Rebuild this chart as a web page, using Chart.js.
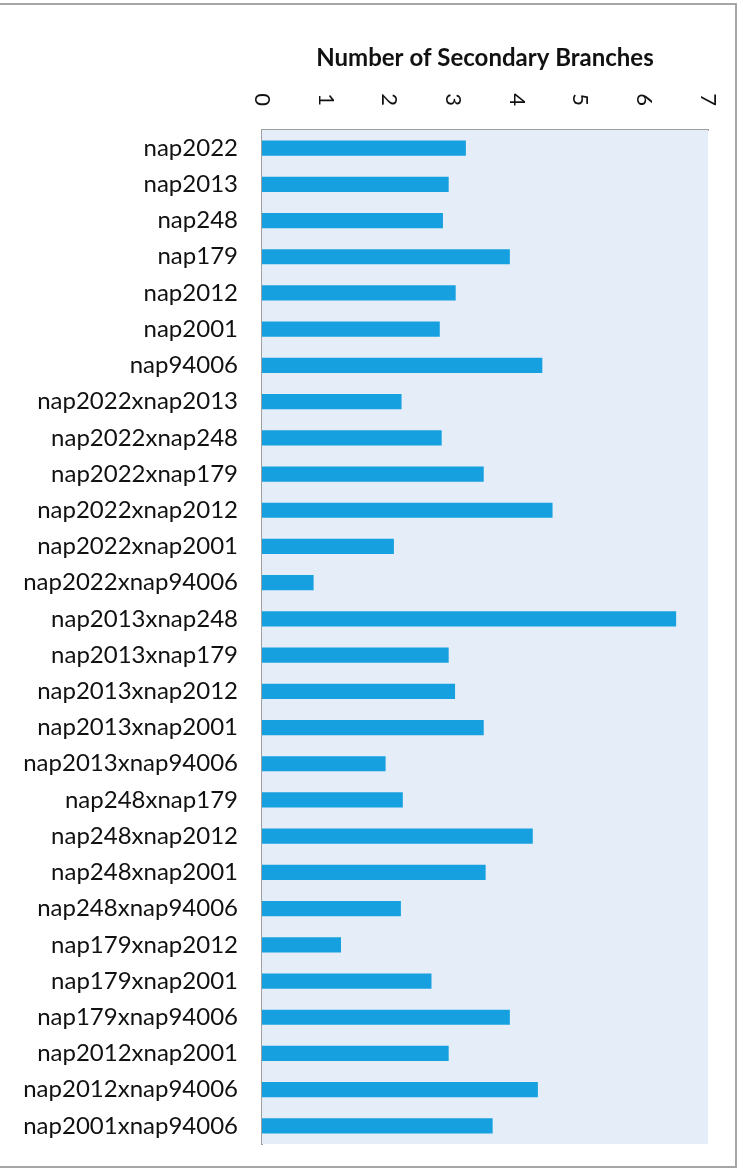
<!DOCTYPE html>
<html>
<head>
<meta charset="utf-8">
<script src="https://cdn.jsdelivr.net/npm/chart.js@4"></script>
<style>
  html, body { margin: 0; padding: 0; background: #fff; overflow: hidden; }
  #wrap { position: relative; width: 743px; height: 1170px; overflow: hidden; }
  #myChart { display: block; }
  #frame {
    position: absolute; left: -10px; top: 3px; width: 743px; height: 1161px;
    border: 2px solid #a6a6a6; pointer-events: none;
  }
</style>
</head>
<body>
<div id="wrap">
  <canvas id="myChart" width="743" height="1170"></canvas>
  <div id="frame"></div>
</div>
<script>
const lines = [
  'nap2022', 'nap2013', 'nap248', 'nap179', 'nap2012', 'nap2001', 'nap94006',
  'nap2022xnap2013', 'nap2022xnap248', 'nap2022xnap179', 'nap2022xnap2012',
  'nap2022xnap2001', 'nap2022xnap94006', 'nap2013xnap248', 'nap2013xnap179',
  'nap2013xnap2012', 'nap2013xnap2001', 'nap2013xnap94006', 'nap248xnap179',
  'nap248xnap2012', 'nap248xnap2001', 'nap248xnap94006', 'nap179xnap2012',
  'nap179xnap2001', 'nap179xnap94006', 'nap2012xnap2001', 'nap2012xnap94006',
  'nap2001xnap94006'
];

const branches = [
  3.2, 2.93, 2.84, 3.89, 3.04, 2.79, 4.4,
  2.19, 2.82, 3.48, 4.56,
  2.07, 0.81, 6.5, 2.93,
  3.03, 3.48, 1.94, 2.21,
  4.25, 3.51, 2.18, 1.24,
  2.66, 3.89, 2.93, 4.33,
  3.62
];

const xTicks = [0, 1, 2, 3, 4, 5, 6, 7];

const FONT = 'Lato, "Open Sans", sans-serif';

// light blue fill behind the bars
const plotBackground = {
  id: 'plotBackground',
  beforeDatasetsDraw(chart) {
    const { ctx, chartArea: a } = chart;
    ctx.save();
    ctx.fillStyle = '#e5eef8';
    ctx.fillRect(a.left, a.top, a.right - a.left, a.bottom - a.top);
    ctx.restore();
  }
};

// value labels on the top axis, turned a quarter clockwise
const rotatedTicks = {
  id: 'rotatedTicks',
  afterDraw(chart) {
    const { ctx } = chart;
    const x = chart.scales.x;
    ctx.save();
    ctx.font = '22px ' + FONT;
    ctx.fillStyle = '#111';
    ctx.textAlign = 'right';
    ctx.textBaseline = 'middle';
    x.ticks.forEach(t => {
      if (!xTicks.includes(t.value)) return;
      const px = x.getPixelForValue(t.value);
      ctx.save();
      ctx.translate(px, chart.chartArea.top - 24);
      ctx.rotate(Math.PI / 2);
      ctx.fillText(String(t.value), 0, 0);
      ctx.restore();
    });
    ctx.restore();
  }
};

const ctx = document.getElementById('myChart').getContext('2d');
const chart = new Chart(ctx, {
  type: 'bar',
  data: {
    labels: lines,
    datasets: [{
      label: 'Number of Secondary Branches',
      data: branches,
      backgroundColor: '#16a0df',
      borderWidth: 0,
      categoryPercentage: 1,
      barPercentage: 0.42
    }]
  },
  options: {
    indexAxis: 'y',
    responsive: false,
    animation: false,
    devicePixelRatio: 1,
    layout: { padding: { top: 33, right: 35, bottom: 26, left: 0 } },
    plugins: {
      legend: { display: false },
      tooltip: { enabled: false }
    },
    scales: {
      x: {
        position: 'top',
        min: 0,
        max: 7,
        grid: { display: false, drawTicks: false },
        border: { display: true, color: '#a0a0a0', width: 2 },
        ticks: { display: false, stepSize: 1 },
        title: {
          display: true,
          text: 'Number of Secondary Branches',
          color: '#111',
          font: { family: FONT, size: 24, weight: 'bold' },
          padding: { top: 11, bottom: 0 }
        },
        afterFit(scale) { scale.height = 97; }
      },
      y: {
        grid: { display: false, drawTicks: false },
        border: { display: true, color: '#a0a0a0', width: 2 },
        ticks: {
          color: '#111',
          padding: 24,
          font: { family: FONT, size: 24 }
        },
        afterFit(scale) {
          scale.width = 262;
          // the label gap should not push the plot in from top and bottom
          scale.paddingTop = 0;
          scale.paddingBottom = 0;
        }
      }
    }
  },
  plugins: [plotBackground, rotatedTicks]
});
</script>
</body>
</html>
